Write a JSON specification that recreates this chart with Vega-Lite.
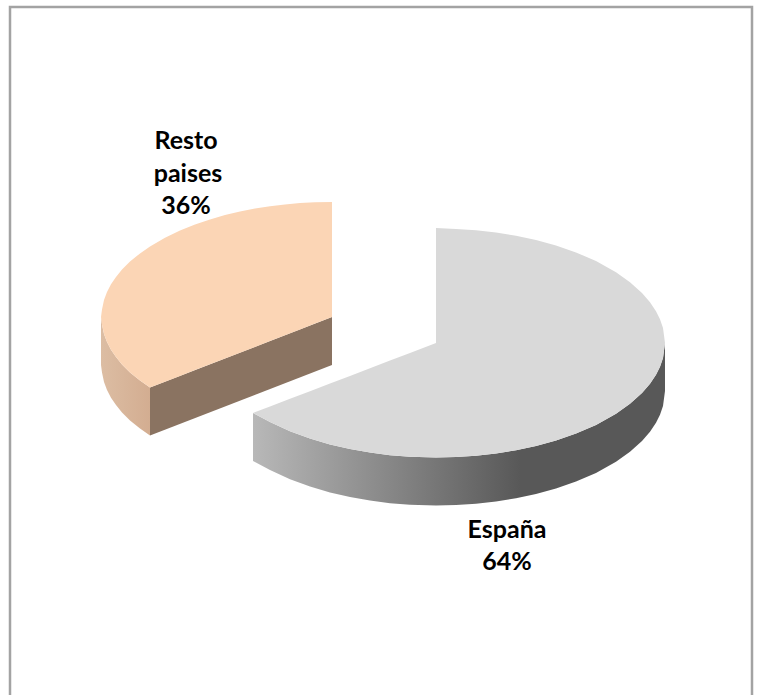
{"$schema":"https://vega.github.io/schema/vega-lite/v6.json","width":760,"height":695,"padding":0,"autosize":{"type":"none"},"background":"white","view":{"stroke":null},
"datasets":{
"frame":[{"x":10,"y":695,"seq":1},{"x":10,"y":7,"seq":2},{"x":752,"y":7,"seq":3},{"x":752,"y":695,"seq":4}],
"espana_top":[{"x":253,"y":413,"y2":413},{"x":270,"y":406.5,"y2":421.9},{"x":290,"y":398.8,"y2":431.2},{"x":310,"y":391.2,"y2":438.6},{"x":330,"y":383.5,"y2":444.5},{"x":350,"y":375.9,"y2":449.1},{"x":370,"y":368.2,"y2":452.6},{"x":390,"y":360.6,"y2":455.2},{"x":410,"y":352.9,"y2":456.8},{"x":436,"y":343,"y2":457.5},{"x":436,"y":228,"y2":457.5},{"x":456,"y":228.9,"y2":457.1},{"x":476,"y":230.3,"y2":455.7},{"x":496,"y":232.5,"y2":453.5},{"x":516,"y":235.7,"y2":450.3},{"x":536,"y":240,"y2":446},{"x":556,"y":245.5,"y2":440.5},{"x":576,"y":252.4,"y2":433.6},{"x":596,"y":261.1,"y2":424.9},{"x":616,"y":272.2,"y2":413.8},{"x":630,"y":282.2,"y2":403.8},{"x":642,"y":293,"y2":393},{"x":650,"y":302.2,"y2":383.8},{"x":656,"y":311.2,"y2":374.8},{"x":660,"y":319.2,"y2":366.8},{"x":663,"y":327.9,"y2":358.1},{"x":665,"y":343,"y2":343}],
"espana_side":[{"x":253,"y":413,"y2":461},{"x":270,"y":421.9,"y2":469.9},{"x":290,"y":431.2,"y2":479.2},{"x":310,"y":438.6,"y2":486.6},{"x":330,"y":444.5,"y2":492.5},{"x":350,"y":449.1,"y2":497.1},{"x":370,"y":452.6,"y2":500.6},{"x":390,"y":455.2,"y2":503.2},{"x":410,"y":456.8,"y2":504.8},{"x":436,"y":457.5,"y2":505.5},{"x":456,"y":457.1,"y2":505.1},{"x":476,"y":455.7,"y2":503.7},{"x":496,"y":453.5,"y2":501.5},{"x":516,"y":450.3,"y2":498.3},{"x":536,"y":446,"y2":494},{"x":556,"y":440.5,"y2":488.5},{"x":576,"y":433.6,"y2":481.6},{"x":596,"y":424.9,"y2":472.9},{"x":616,"y":413.8,"y2":461.8},{"x":630,"y":403.8,"y2":451.8},{"x":642,"y":393,"y2":441},{"x":650,"y":383.8,"y2":431.8},{"x":656,"y":374.8,"y2":422.8},{"x":660,"y":366.8,"y2":414.8},{"x":663,"y":358.1,"y2":406.1},{"x":665,"y":343,"y2":391}],
"resto_top":[{"x":101,"y":317,"y2":317},{"x":102,"y":309.4,"y2":324.6},{"x":104,"y":300.1,"y2":333.9},{"x":107,"y":292,"y2":342},{"x":111,"y":284.3,"y2":349.7},{"x":116,"y":276.9,"y2":357.1},{"x":122,"y":269.6,"y2":364.4},{"x":130,"y":261.6,"y2":372.4},{"x":140,"y":253.4,"y2":380.6},{"x":150,"y":246.4,"y2":387.6},{"x":165,"y":237.7,"y2":381.8},{"x":180,"y":230.5,"y2":376},{"x":195,"y":224.5,"y2":370.1},{"x":210,"y":219.4,"y2":364.3},{"x":225,"y":215.1,"y2":358.5},{"x":240,"y":211.6,"y2":352.7},{"x":255,"y":208.6,"y2":346.9},{"x":270,"y":206.2,"y2":341.1},{"x":285,"y":204.4,"y2":335.2},{"x":300,"y":203.1,"y2":329.4},{"x":315,"y":202.3,"y2":323.6},{"x":332,"y":202,"y2":317}],
"resto_side":[{"x":101,"y":317,"y2":365},{"x":102,"y":324.6,"y2":372.6},{"x":104,"y":333.9,"y2":381.9},{"x":107,"y":342,"y2":390},{"x":111,"y":349.7,"y2":397.7},{"x":116,"y":357.1,"y2":405.1},{"x":122,"y":364.4,"y2":412.4},{"x":130,"y":372.4,"y2":420.4},{"x":140,"y":380.6,"y2":428.6},{"x":150,"y":387.6,"y2":435.6}],
"resto_face":[{"x":150,"y":387.6,"y2":435.6},{"x":332,"y":317,"y2":365}],
"labels":[{"x":186,"y":141,"label":"Resto"},{"x":188,"y":174,"label":"paises"},{"x":186,"y":206,"label":"36%"},{"x":507,"y":530,"label":"España"},{"x":507,"y":562,"label":"64%"}]
},
"encoding":{
"x":{"field":"x","type":"quantitative","axis":null,"scale":{"domain":[0,760],"nice":false,"zero":false}},
"y":{"field":"y","type":"quantitative","axis":null,"scale":{"domain":[695,0],"nice":false,"zero":false}}
},
"layer":[
{"data":{"name":"frame"},"mark":{"type":"line","stroke":"#a3a3a3","strokeWidth":2.5,"clip":false},"encoding":{"order":{"field":"seq"}}},
{"data":{"name":"resto_side"},"mark":{"type":"area","orient":"vertical","fill":{"gradient":"linear","x1":0,"x2":1,"y1":0,"y2":0,"stops":[{"offset":0,"color":"#dcbda3"},{"offset":1,"color":"#d3ad91"}]}},"encoding":{"y2":{"field":"y2"}}},
{"data":{"name":"resto_face"},"mark":{"type":"area","orient":"vertical","fill":"#8a7361"},"encoding":{"y2":{"field":"y2"}}},
{"data":{"name":"resto_top"},"mark":{"type":"area","orient":"vertical","fill":"#fbd5b5"},"encoding":{"y2":{"field":"y2"}}},
{"data":{"name":"espana_side"},"mark":{"type":"area","orient":"vertical","fill":{"gradient":"linear","x1":0,"x2":1,"y1":0,"y2":0,"stops":[{"offset":0,"color":"#b8b8b8"},{"offset":0.65,"color":"#585858"},{"offset":1,"color":"#585858"}]}},"encoding":{"y2":{"field":"y2"}}},
{"data":{"name":"espana_top"},"mark":{"type":"area","orient":"vertical","fill":"#d9d9d9"},"encoding":{"y2":{"field":"y2"}}},
{"data":{"name":"labels"},"mark":{"type":"text","font":"Lato","fontWeight":"bold","fontSize":25,"color":"#000000","align":"center","baseline":"middle"},"encoding":{"text":{"field":"label","type":"nominal"}}}
]}
